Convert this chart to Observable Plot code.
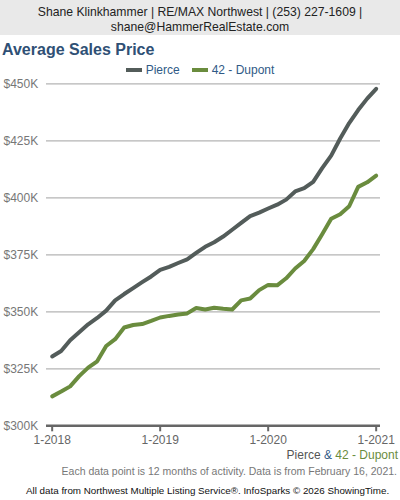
<!DOCTYPE html>
<html>
<head>
<meta charset="utf-8">
<script src="https://cdn.jsdelivr.net/npm/d3@7"></script>
<script src="https://cdn.jsdelivr.net/npm/@observablehq/plot@0.6"></script>
<style>
  html, body { margin: 0; padding: 0; background: #fff; }
  body { width: 400px; height: 500px; position: relative; overflow: hidden; font-family: Arial, "Liberation Sans", sans-serif; }
  .hdr { position: absolute; left: 0; top: 0; width: 400px; height: 35px; background: #e9e9e9; color: #222; font-size: 12.2px; text-align: center; line-height: 15px; padding-top: 4.5px; box-sizing: border-box; }
  .title { position: absolute; left: 2px; top: 40.5px; font-size: 16px; font-weight: bold; color: #2f5075; }
  .legend { position: absolute; left: 0; top: 63px; width: 400px; text-align: center; font-size: 12px; color: #2f5a86; }
  .legend span.sw { display: inline-block; width: 16px; height: 4px; vertical-align: middle; margin-right: 4px; position: relative; top: -1px; }
  .legend span.item { margin: 0 6px; }
  #chart { position: absolute; left: 0; top: 76px; }
  .src { position: absolute; right: 2px; top: 448px; font-size: 12px; }
  .note { position: absolute; right: 3px; top: 464.5px; font-size: 10.5px; color: #777; }
  .foot { position: absolute; left: 26px; top: 484.5px; font-size: 9.8px; color: #111; white-space: nowrap; }
</style>
</head>
<body>
<div class="hdr">Shane Klinkhammer | RE/MAX Northwest | (253) 227-1609 |<br>shane@HammerRealEstate.com</div>
<div class="title">Average Sales Price</div>
<div class="legend" id="legend"></div>
<div id="chart"></div>
<div class="src"><span style="color:#555">Pierce</span> <span style="color:#2f5a86">&amp;</span> <span style="color:#6a8c3e">42 - Dupont</span></div>
<div class="note">Each data point is 12 months of activity. Data is from February 16, 2021.</div>
<div class="foot">All data from Northwest Multiple Listing Service®. InfoSparks © 2026 ShowingTime.</div>
<script>
const seriesNames = ["Pierce", "42 - Dupont"];
const seriesColors = ["#535c5a", "#6a8c3e"];
// months from 1-2018 (index 0) to 1-2021 (index 36), values in $K
const pierce = [330.4, 332.8, 337.5, 341, 344.5, 347.3, 350.5, 355, 357.8, 360.4, 363, 365.5, 368.4,
  369.7, 371.4, 373, 375.8, 378.5, 380.5, 383, 386, 389, 392, 393.5, 395.3,
  397, 399.2, 402.8, 404.2, 407, 413, 418.5, 426, 432.8, 438.5, 443.5, 447.8];
const dupont = [312.9, 315, 317.3, 321.8, 325.5, 328.3, 335, 338, 343.1, 344.2, 344.6, 346, 347.5,
  348.2, 348.8, 349.3, 351.7, 351, 351.8, 351.3, 351, 355, 355.8, 359.5, 361.8,
  361.6, 364.7, 369, 372.3, 377.5, 384, 390.8, 392.8, 396.3, 404.8, 406.8, 409.7];
const xTicks = [0, 12, 24, 36];
const xTickLabels = ["1-2018", "1-2019", "1-2020", "1-2021"];
const yTicks = [300, 325, 350, 375, 400, 425, 450];

const data = [];
pierce.forEach((v, i) => data.push({m: i, v, s: seriesNames[0]}));
dupont.forEach((v, i) => data.push({m: i, v, s: seriesNames[1]}));

document.getElementById("legend").innerHTML = seriesNames.map((n, i) =>
  `<span class="item"><span class="sw" style="background:${seriesColors[i]}"></span>${n}</span>`).join("");

const chart = Plot.plot({
  width: 400,
  height: 375,
  marginTop: 7.3,
  marginBottom: 25.7,
  marginLeft: 46,
  marginRight: 20,
  style: {fontFamily: "Arial, 'Liberation Sans', sans-serif", fontSize: "12px", background: "transparent", overflow: "visible"},
  x: {domain: [-0.63, 36.48], label: null},
  y: {domain: [300, 450], label: null},
  color: {domain: seriesNames, range: seriesColors},
  marks: [
    Plot.ruleY(yTicks.slice(1), {stroke: "#b4b4b4", strokeWidth: 1.2}),
    Plot.line(data, {x: "m", y: "v", stroke: "s", strokeWidth: 4, curve: "linear", strokeLinejoin: "round", strokeLinecap: "round"}),
    Plot.ruleY([300], {stroke: "#666", strokeWidth: 2.5}),
    Plot.axisY({ticks: yTicks, tickFormat: d => `$${d}K`, tickSize: 0, tickPadding: 0, textAnchor: "start", dx: -43, fill: "#777", fontSize: 12, label: null}),
    Plot.axisX({ticks: xTicks, tickFormat: (d, i) => xTickLabels[i], tickSize: 6, stroke: "#666", strokeWidth: 2, tickPadding: 4, fill: "#666", fontSize: 12, label: null})
  ]
});
document.getElementById("chart").appendChild(chart);
</script>
</body>
</html>
